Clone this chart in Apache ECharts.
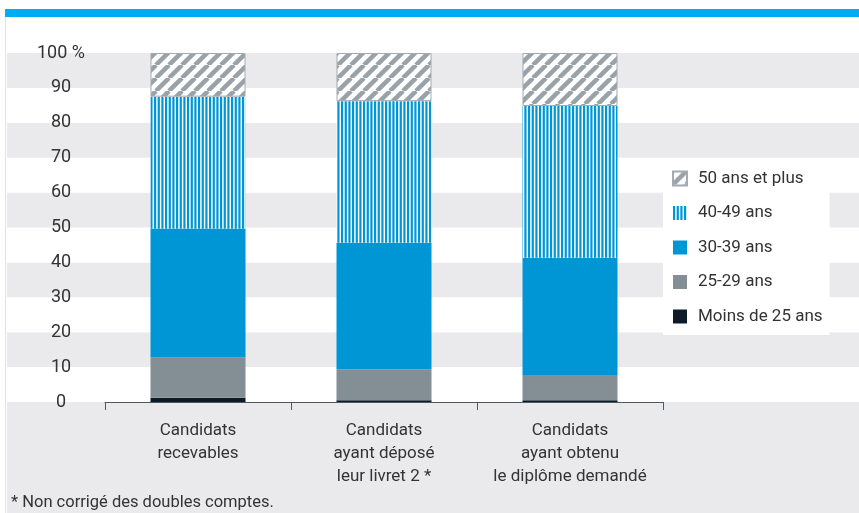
<!DOCTYPE html>
<html>
<head>
<meta charset="utf-8">
<script src="https://cdn.jsdelivr.net/npm/echarts@6/dist/echarts.min.js"></script>
<style>
html, body { margin: 0; padding: 0; background: #fff; }
#chart { width: 859px; height: 513px; }
</style>
</head>
<body>
<div id="chart"></div>
<script>
// categories (x axis)
var categories = ['Candidats\nrecevables', 'Candidats\nayant déposé\nleur livret 2 *', 'Candidats\nayant obtenu\nle diplôme demandé'];
// parts in % per age group, bottom to top
var moins25 = [1.2, 0.5, 0.5];
var ans25_29 = [11.6, 8.9, 7.0];
var ans30_39 = [36.9, 36.2, 33.8];
var ans40_49 = [37.8, 40.6, 43.5];
var ans50plus = [12.5, 13.8, 15.2];
var seriesNames = ['Moins de 25 ans', '25-29 ans', '30-39 ans', '40-49 ans', '50 ans et plus'];
var yTickLabels = ['0', '10', '20', '30', '40', '50', '60', '70', '80', '90', '100 %'];

var FONT = "Roboto, 'Liberation Sans', sans-serif";
var TXT = '#333333';
var BAND = '#eaeaec';

//hachures en diagonale pour 50 ans et plus
function hatchPattern() {
    var s = 13;
    var c = document.createElement('canvas');
    c.width = s;
    c.height = s;
    var ctx = c.getContext('2d');
    ctx.fillStyle = '#ffffff';
    ctx.fillRect(0, 0, s, s);
    ctx.strokeStyle = '#9aa2a9';
    ctx.lineWidth = 4.5;
    for (var k = -1; k <= 1; k++) {
        ctx.beginPath();
        ctx.moveTo(k * s, s);
        ctx.lineTo(k * s + s, 0);
        ctx.stroke();
    }
    return c;
}
//rayures verticales pour 40-49 ans
function stripePattern() {
    var c = document.createElement('canvas');
    c.width = 11;
    c.height = 10;
    var ctx = c.getContext('2d');
    ctx.fillStyle = '#ffffff';
    ctx.fillRect(0, 0, 11, 10);
    ctx.fillStyle = '#0096d6';
    for (var i = 0; i < 3; i++) {
        ctx.fillRect(i * 11 / 3, 0, 2.2, 10);
    }
    return c;
}

var values = [moins25, ans25_29, ans30_39, ans40_49, ans50plus];
var colors = ['#0d1b29', '#848e95', '#0096d6',
    { image: stripePattern(), repeat: 'repeat' },
    { image: hatchPattern(), repeat: 'repeat' }];

var series = [];
for (var i = 0; i < seriesNames.length; i++) {
    var st = { color: colors[i] };
    if (i == 4) {
        st.borderColor = '#a3aab0';
        st.borderWidth = 1;
    }
    series.push({
        name: seriesNames[i],
        type: 'bar',
        stack: 'total',
        xAxisIndex: 0,
        yAxisIndex: 0,
        barWidth: 95,
        data: values[i],
        itemStyle: st
    });
}

var myChart = echarts.init(document.getElementById('chart'));
var option = {
    animation: false,
    backgroundColor: '#ffffff',
    textStyle: { fontFamily: FONT },
    grid: [
        { left: 105, right: 196, top: 53, bottom: 111 },
        { left: 7, right: 0, top: 53, bottom: 111 }
    ],
    xAxis: [{
        type: 'category',
        gridIndex: 0,
        data: categories,
        axisLine: { lineStyle: { color: '#4d5862', width: 1 } },
        axisTick: { show: true, length: 8, lineStyle: { color: '#4d5862' } },
        axisLabel: { fontSize: 17, color: TXT, fontFamily: FONT, lineHeight: 23, margin: 17, interval: 0 }
    }, {
        type: 'value',
        gridIndex: 1,
        show: false
    }],
    yAxis: [{
        type: 'value',
        gridIndex: 0,
        min: 0,
        max: 100,
        interval: 10,
        axisLine: { show: false },
        axisTick: { show: false },
        splitLine: { show: false },
        axisLabel: {
            fontSize: 18,
            color: TXT,
            fontFamily: FONT,
            align: 'center',
            margin: 44,
            formatter: function(v) { return yTickLabels[Math.round(v / 10)]; }
        }
    }, {
        //bandes grises sur toute la largeur
        type: 'value',
        gridIndex: 1,
        min: 0,
        max: 100,
        interval: 10,
        axisLine: { show: false },
        axisTick: { show: false },
        axisLabel: { show: false },
        splitLine: { show: false },
        splitArea: { show: true, areaStyle: { color: ['#ffffff', BAND] } }
    }],
    legend: {
        orient: 'vertical',
        left: 663,
        top: 160,
        padding: [10, 7, 10, 9],
        backgroundColor: '#ffffff',
        itemWidth: 14,
        itemHeight: 14,
        itemGap: 17.5,
        icon: 'rect',
        data: seriesNames.slice().reverse(),
        textStyle: { fontSize: 17, color: TXT, fontFamily: FONT, padding: [0, 0, 0, 6] }
    },
    graphic: [
        { type: 'rect', z: -1, shape: { x: 5, y: 9, width: 854, height: 8 }, style: { fill: '#00aeef' } },
        { type: 'rect', z: -1, shape: { x: 5, y: 17, width: 1, height: 496 }, style: { fill: '#e3e3e3' } },
        { type: 'rect', z: -1, shape: { x: 7, y: 402, width: 852, height: 111 }, style: { fill: BAND } },
        {
            type: 'text', z: 10, x: 11, y: 503,
            style: { text: '* Non corrigé des doubles comptes.', fontSize: 16.5, fontFamily: FONT, fill: TXT, verticalAlign: 'middle' }
        }
    ],
    series: series
};
myChart.setOption(option);
</script>
</body>
</html>
